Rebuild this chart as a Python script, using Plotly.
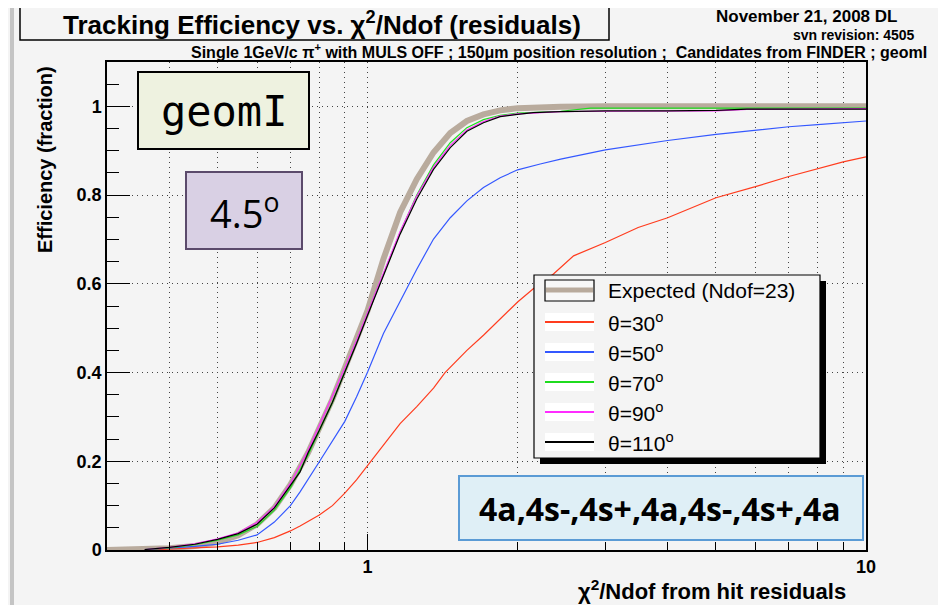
import plotly.graph_objects as go
import math

# ---------------- data ----------------
x_expected = [0.30, 0.357, 0.40, 0.45, 0.50, 0.55, 0.60, 0.65, 0.70, 0.76, 0.80, 0.85, 0.90, 0.95,
              1.00, 1.076, 1.162, 1.255, 1.356, 1.465, 1.582, 1.708, 1.845, 2.0, 2.15, 2.44, 3.0, 10.0]
y_expected = [0.0, 0.001, 0.004, 0.009, 0.018, 0.033, 0.058, 0.095, 0.147, 0.22, 0.275, 0.34, 0.41, 0.475,
              0.54, 0.656, 0.761, 0.836, 0.896, 0.94, 0.967, 0.982, 0.991, 0.996, 0.998, 0.999, 1.0, 1.0]

x_th30 = [0.37, 0.40, 0.45, 0.50, 0.55, 0.60, 0.65, 0.70, 0.732, 0.80, 0.85, 0.90, 0.95, 1.0, 1.076, 1.162,
          1.255, 1.356, 1.43, 1.582, 1.708, 1.845, 2.0, 2.15, 2.36, 2.59, 3.0, 3.49, 4.0, 5.0, 6.0, 7.0,
          8.0, 9.0, 10.0]
y_th30 = [0.0005, 0.002, 0.004, 0.007, 0.011, 0.017, 0.028, 0.043, 0.054, 0.079, 0.10, 0.128, 0.158, 0.19,
          0.235, 0.285, 0.323, 0.365, 0.40, 0.45, 0.484, 0.521, 0.559, 0.589, 0.622, 0.663, 0.693, 0.727,
          0.749, 0.794, 0.819, 0.842, 0.86, 0.875, 0.886]

x_th50 = [0.36, 0.40, 0.45, 0.50, 0.55, 0.60, 0.65, 0.70, 0.732, 0.80, 0.85, 0.90, 0.95, 1.0, 1.076, 1.162,
          1.255, 1.356, 1.465, 1.582, 1.708, 1.845, 2.0, 2.22, 2.44, 3.0, 4.0, 5.0, 6.0, 7.0, 8.0, 9.0, 10.0]
y_th50 = [0.001, 0.004, 0.008, 0.013, 0.022, 0.034, 0.063, 0.10, 0.131, 0.199, 0.245, 0.29, 0.345, 0.401,
          0.488, 0.56, 0.633, 0.701, 0.749, 0.787, 0.817, 0.839, 0.857, 0.87, 0.881, 0.902, 0.923, 0.937,
          0.947, 0.954, 0.959, 0.963, 0.967]

x_th70 = [0.357, 0.40, 0.45, 0.50, 0.55, 0.60, 0.65, 0.70, 0.76, 0.80, 0.85, 0.90, 0.95, 1.0, 1.076, 1.162,
          1.255, 1.356, 1.465, 1.582, 1.708, 1.845, 2.0, 2.44, 2.8, 10.0]
y_th70 = [0.001, 0.005, 0.012, 0.022, 0.034, 0.053, 0.09, 0.14, 0.215, 0.267, 0.332, 0.402, 0.468, 0.532,
          0.622, 0.716, 0.80, 0.868, 0.918, 0.952, 0.97, 0.98, 0.985, 0.989, 0.996, 0.996]

x_th90 = [0.357, 0.40, 0.45, 0.50, 0.55, 0.60, 0.65, 0.70, 0.76, 0.80, 0.85, 0.90, 0.95, 1.0, 1.076, 1.162,
          1.255, 1.356, 1.465, 1.582, 1.708, 1.845, 2.0, 2.44, 3.0, 5.0, 5.77, 10.0]
y_th90 = [0.001, 0.006, 0.014, 0.025, 0.039, 0.062, 0.098, 0.15, 0.225, 0.28, 0.345, 0.41, 0.472, 0.535,
          0.625, 0.718, 0.798, 0.863, 0.912, 0.947, 0.966, 0.978, 0.983, 0.988, 0.989, 0.990, 0.993, 0.995]

x_th110 = [0.357, 0.40, 0.45, 0.50, 0.55, 0.60, 0.65, 0.70, 0.732, 0.76, 0.80, 0.85, 0.90, 0.95, 1.0, 1.076,
           1.162, 1.255, 1.356, 1.465, 1.582, 1.708, 1.845, 2.0, 2.15, 2.44, 3.0, 4.0, 5.0, 5.77, 10.0]
y_th110 = [0.001, 0.006, 0.013, 0.024, 0.037, 0.058, 0.095, 0.144, 0.176, 0.22, 0.27, 0.333, 0.40, 0.465,
           0.529, 0.618, 0.712, 0.791, 0.858, 0.907, 0.944, 0.963, 0.977, 0.982, 0.986, 0.988, 0.990, 0.990,
           0.991, 0.994, 0.994]

y_tickvals = [0, 0.2, 0.4, 0.6, 0.8, 1.0]
y_ticktext = ["0", "0.2", "0.4", "0.6", "0.8", "1"]
x_tickvals = [1, 10]
x_ticktext = ["1", "10"]
x_minor_vals = [0.4, 0.5, 0.6, 0.7, 0.8, 0.9, 2, 3, 4, 5, 6, 7, 8, 9]

legend_labels = ["Expected (Ndof=23)", "θ=30<sup>o</sup>", "θ=50<sup>o</sup>", "θ=70<sup>o</sup>",
                 "θ=90<sup>o</sup>", "θ=110<sup>o</sup>"]

# ---------------- styling ----------------
OFF = 8                      # page body margin of the browser
W, H = 946 - OFF, 605 - OFF
L, R, T, B = 107, 866, 62, 550   # plot frame in screen pixels
BG = "#f4f4f4"
FONT = "Liberation Sans"
TAN = "#b9ab9d"
RED = "#ff3c1e"
BLUE = "#3458ff"
GREEN = "#1fdc1f"
MAG = "#ff2cff"
BLACK = "#000000"
GRID = "#444444"


def px(xp):
    return (xp - L) / (R - L)


def py(yp):
    return (B - yp) / (B - T)


fig = go.Figure()

series = [
    (x_expected, y_expected, TAN, 6),
    (x_th30, y_th30, RED, 1.2),
    (x_th50, y_th50, BLUE, 1.2),
    (x_th70, y_th70, GREEN, 1.2),
    (x_th90, y_th90, MAG, 1.2),
    (x_th110, y_th110, BLACK, 1.2),
]
for (xs, ys, col, w), name in zip(series, legend_labels):
    fig.add_trace(go.Scatter(x=xs, y=ys, mode="lines", name=name,
                             line=dict(color=col, width=w), showlegend=False, hoverinfo="skip"))

shapes = []
annots = []


def rect(x0, y0, x1, y1, fill, line_col=None, lw=0):
    shapes.append(dict(type="rect", xref="paper", yref="paper", x0=px(x0), x1=px(x1), y0=py(y1), y1=py(y0),
                       fillcolor=fill, line=dict(color=line_col or fill, width=lw), layer="above"))


def hline(x0, x1, y, col, lw):
    shapes.append(dict(type="line", xref="paper", yref="paper", x0=px(x0), x1=px(x1), y0=py(y), y1=py(y),
                       line=dict(color=col, width=lw), layer="above"))


def text(x, y, s, size, xanchor="center", family=FONT, weight="normal", color="black", angle=0, pad=1):
    annots.append(dict(xref="paper", yref="paper", x=px(x), y=py(y), text=s, showarrow=False,
                       xanchor=xanchor, yanchor="middle", textangle=angle, borderpad=pad,
                       font=dict(family=family, size=size, color=color, weight=weight)))


# left slide border
rect(10, 0, 14, 605, "#c4c4c4")

# title box
rect(20, 3, 609, 40, BG, "black", 1.5)
text(322, 23, "Tracking Efficiency vs. χ<sup>2</sup>/Ndof (residuals)", 26, weight="bold")
text(898, 16, "November 21, 2008 DL", 17, xanchor="right", weight="bold", pad=0)
text(916, 35, "svn revision: 4505", 14, xanchor="right", weight="bold", pad=0)
text(928, 51, "Single 1GeV/c π<sup>+</sup> with MULS OFF ; 150μm position resolution ;  Candidates from FINDER ; geomI",
     16, xanchor="right", weight="bold", pad=0)

# axis titles
text(45, 160, "Efficiency (fraction)", 20, weight="bold", angle=-90)
text(848, 590, "χ<sup>2</sup>/Ndof from hit residuals", 22, xanchor="right", weight="bold")

# geomI box
rect(138, 72, 309, 149, "#eef2e0", "black", 2)
text(224, 112, "geomI", 42, family="DejaVu Sans Mono")
# 4.5 box
rect(186, 172, 302, 249, "#d9d0e4", "#5b4a6b", 2)
text(244, 211, "4.5<sup>o</sup>", 38, family="Open Sans")
# sequence box
rect(459, 476, 863, 540, "#dfeff6", "#5b9bd5", 2)
text(660, 508, "4a,4s-,4s+,4a,4s-,4s+,4a", 32, family="Open Sans", weight="bold")

# legend
rect(540, 281, 826, 464, "black")
rect(534, 275, 820, 458, BG, "black", 1.2)
leg_y = [290, 322, 352, 382, 412, 442]
leg_cols = [TAN, RED, BLUE, GREEN, MAG, BLACK]
for i, (yy, col, lab) in enumerate(zip(leg_y, leg_cols, legend_labels)):
    if i == 0:
        rect(545, yy - 10, 594, yy + 11, "#f8f8f8", "black", 1.2)
        hline(546, 593, yy, col, 5)
    else:
        rect(545, yy - 9, 594, yy + 9, "white")
        hline(545, 594, yy, col, 2)
    text(606, yy, lab, 21, xanchor="left")

fig.update_layout(
    width=W, height=H,
    margin=dict(l=L - OFF, r=946 - R, t=T - OFF, b=605 - B),
    paper_bgcolor=BG, plot_bgcolor=BG,
    shapes=shapes, annotations=annots,
    xaxis=dict(type="log", range=[math.log10(0.3), 1.0],
               tickmode="array", tickvals=x_tickvals, ticktext=x_ticktext,
               ticks="inside", ticklen=16, tickwidth=1.2, tickcolor="black",
               tickfont=dict(family=FONT, size=18, color="black", weight="bold"),
               showline=True, linecolor="black", linewidth=1.5, mirror=True,
               showgrid=True, gridcolor=GRID, griddash="1px,4px", gridwidth=1,
               zeroline=False,
               minor=dict(tickmode="array", tickvals=x_minor_vals, ticks="inside", ticklen=8,
                          tickwidth=1.2, tickcolor="black", showgrid=True, gridcolor=GRID,
                          griddash="1px,4px", gridwidth=1)),
    yaxis=dict(range=[0, 1.1], tickmode="array", tickvals=y_tickvals, ticktext=y_ticktext,
               ticks="inside", ticklen=23, tickwidth=1.2, tickcolor="black",
               tickfont=dict(family=FONT, size=18, color="black", weight="bold"),
               showline=True, linecolor="black", linewidth=1.5, mirror=True,
               showgrid=True, gridcolor=GRID, griddash="1px,4px", gridwidth=1,
               zeroline=False,
               minor=dict(dtick=0.05, tick0=0, ticks="inside", ticklen=12, tickwidth=1.2,
                          tickcolor="black", showgrid=False)),
)

fig.write_html("out.html")
